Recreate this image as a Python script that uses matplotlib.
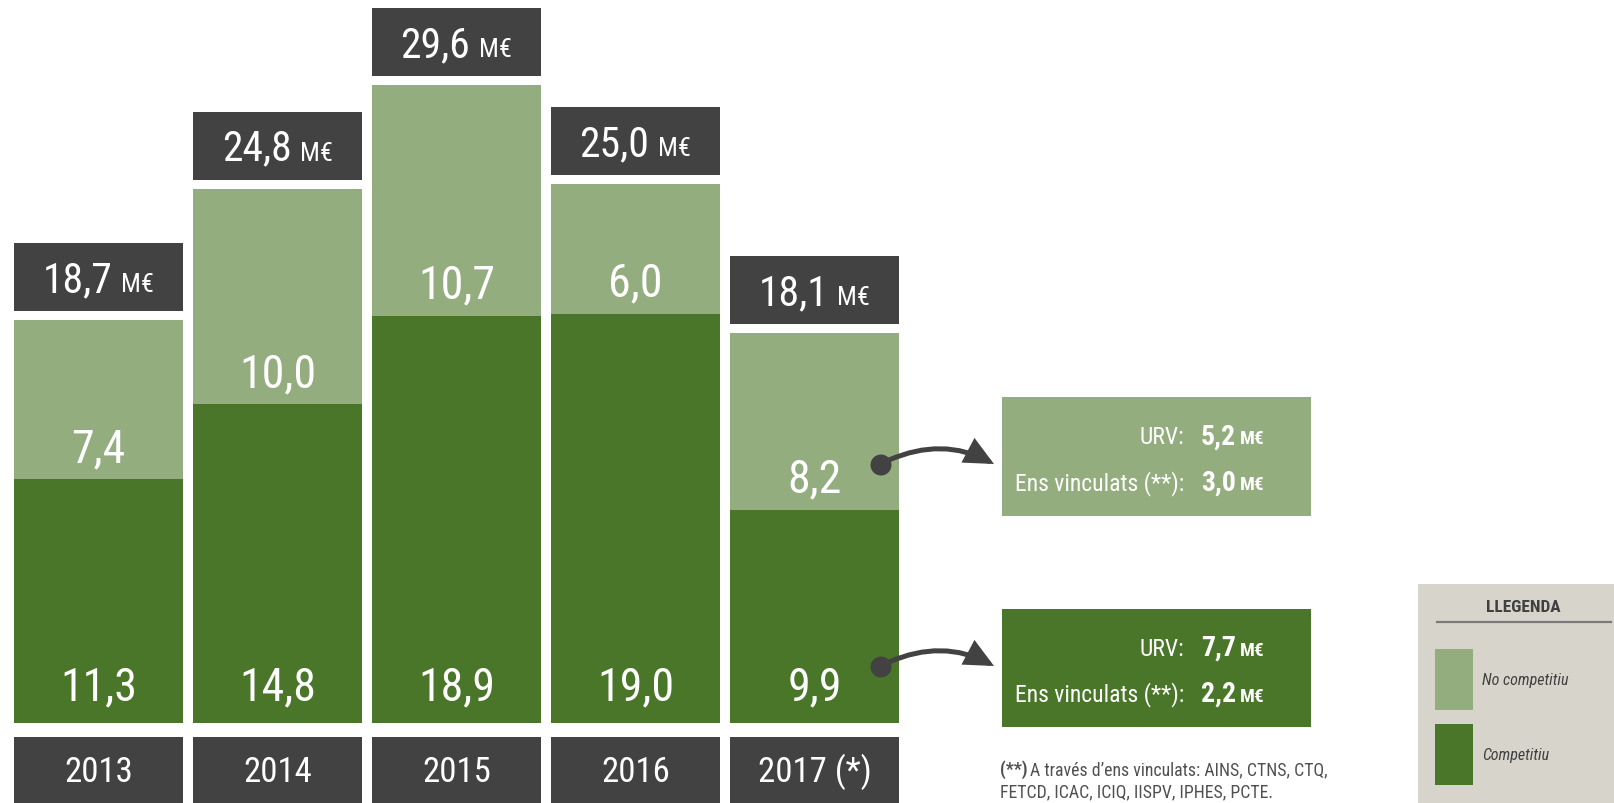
import matplotlib
matplotlib.use("Agg")
import matplotlib.pyplot as plt
from matplotlib.patches import Rectangle, Circle, FancyArrowPatch

# ---------------- data ----------------
years = ['2013', '2014', '2015', '2016', '2017 (*)']
competitiu = [11.3, 14.8, 18.9, 19.0, 9.9]
no_competitiu = [7.4, 10.0, 10.7, 6.0, 8.2]
totals = [18.7, 24.8, 29.6, 25.0, 18.1]
split_labels = ['URV:', 'Ens vinculats (**):']
split_no_competitiu = [5.2, 3.0]
split_competitiu = [7.7, 2.2]
legend_labels = ['No competitiu', 'Competitiu']
footnote_lines = ['A través d\u2019ens vinculats: AINS, CTNS, CTQ,',
                  'FETCD, ICAC, ICIQ, IISPV, IPHES, PCTE.']

LIGHT = '#93AD7E'
DARK = '#4A7629'
BOX = '#424242'
LEG_BG = '#D7D4CC'
FONT = ['Roboto Condensed', 'DejaVu Sans']

def fmt(v):
    return f"{v:.1f}".replace('.', ',')

W, H = 1614, 804
fig = plt.figure(figsize=(W / 100, H / 100), dpi=100)

# main axes: bar index on x, value on y
PX_PER_UNIT = 21.55
BASE_PX = 724.0
PITCH = 179.0
X0 = 98.5
ax = fig.add_axes([0, 0, 1, 1])
ax.set_xlim(-X0 / PITCH, (W - X0) / PITCH)
ax.set_ylim((BASE_PX - H) / PX_PER_UNIT, BASE_PX / PX_PER_UNIT)
ax.axis('off')

# overlay in pixel coordinates (y from top)
ax2 = fig.add_axes([0, 0, 1, 1], zorder=5)
ax2.set_xlim(0, W)
ax2.set_ylim(H, 0)
ax2.axis('off')
ax2.patch.set_alpha(0)

r = fig.canvas.get_renderer()

x = list(range(len(years)))
bw = 169 / PITCH
ax.bar(x, competitiu, width=bw, color=DARK, linewidth=0)
ax.bar(x, no_competitiu, bottom=competitiu, width=bw, color=LIGHT, linewidth=0)

# year boxes
ax.bar(x, [-5] * len(x), bottom=-14 / PX_PER_UNIT, width=bw, color=BOX, linewidth=0)
# total boxes
ax.bar(x, [68 / PX_PER_UNIT] * len(x), bottom=[t + 9 / PX_PER_UNIT for t in totals],
       width=bw, color=BOX, linewidth=0)

for i in x:
    ax.annotate(fmt(competitiu[i]), xy=(i, 0), xytext=(0, 24), textcoords='offset pixels',
                ha='center', va='baseline', color='white', fontsize=33, family=FONT)
    ax.annotate(fmt(no_competitiu[i]), xy=(i, competitiu[i]), xytext=(0, 18),
                textcoords='offset pixels', ha='center', va='baseline', color='white',
                fontsize=33, family=FONT)
    ax.annotate(years[i], xy=(i, 0), xytext=(0, -58), textcoords='offset pixels',
                ha='center', va='baseline', color='white', fontsize=25, family=FONT)


def pair(xc, yb, s1, kw1, s2, kw2, gap, mode='center'):
    t1 = ax2.text(0, yb, s1, ha='left', va='baseline', **kw1)
    t2 = ax2.text(0, yb, s2, ha='left', va='baseline', **kw2)
    w1 = t1.get_window_extent(r).width
    w2 = t2.get_window_extent(r).width
    if mode == 'center':
        start = xc - (w1 + gap + w2) / 2
    else:
        start = xc
    t1.set_x(start)
    t2.set_x(start + w1 + gap)


# total labels
for i in x:
    dx, dy = ax.transData.transform((i, totals[i]))
    px, py = dx, H - dy
    pair(px, py - 29, fmt(totals[i]), dict(fontsize=30, color='white', family=FONT),
         'M€', dict(fontsize=19, color='white', family=FONT), gap=9)

# right-side split boxes
boxes = [(398.3, LIGHT, split_no_competitiu), (609.6, DARK, split_competitiu)]
for top, col, vals in boxes:
    ax2.add_patch(Rectangle((1001.5, top), 309, 118.5, color=col, lw=0))
    for k, lab in enumerate(split_labels):
        yb = top + 46 + k * 46
        ax2.text(1184, yb, lab, ha='right', va='baseline', color='white',
                 fontsize=17, family=FONT)
        pair(1201, yb, fmt(vals[k]), dict(fontsize=20, color='white', family=FONT,
                                          weight='bold'),
             'M€', dict(fontsize=14, color='white', family=FONT, weight='bold'),
             gap=4, mode='left')

# arrows with dots
for y0 in (466, 668):
    ax2.add_patch(Circle((881, y0), 10.5, color=BOX, lw=0))
    arr = FancyArrowPatch((889, y0 - 5), (994, y0 - 1),
                          connectionstyle='arc3,rad=-0.24',
                          arrowstyle='-|>,head_length=0.95,head_width=0.45',
                          mutation_scale=16, color=BOX, lw=3.6, shrinkA=0, shrinkB=0,
                          joinstyle='miter')
    ax2.add_patch(arr)

# footnote
pair(1000, 775, '(**)', dict(fontsize=12.8, color='#505050', family=FONT, weight='bold'),
     footnote_lines[0], dict(fontsize=12.8, color='#505050', family=FONT), gap=3,
     mode='left')
ax2.text(1000, 797, footnote_lines[1], ha='left', va='baseline', fontsize=12.8,
         color='#505050', family=FONT)

# legend
ax2.add_patch(Rectangle((1418, 585), 200, 225, color=LEG_BG, lw=0))
ax2.text(1523, 608, 'LLEGENDA', ha='center', va='center', fontsize=12.5,
         weight='bold', color='#404040', family=FONT)
ax2.plot([1437, 1611], [623, 623], color='#7a7a7a', lw=1.6)
for k, (lab, col) in enumerate(zip(legend_labels, [LIGHT, DARK])):
    top = 650 + k * 75
    ax2.add_patch(Rectangle((1435, top), 38, 61, color=col, lw=0))
    ax2.text(1482, top + 31, lab, ha='left', va='center', fontsize=11.5, style='italic',
             color='#404040', family=FONT)

fig.savefig('out.png', dpi=100)
